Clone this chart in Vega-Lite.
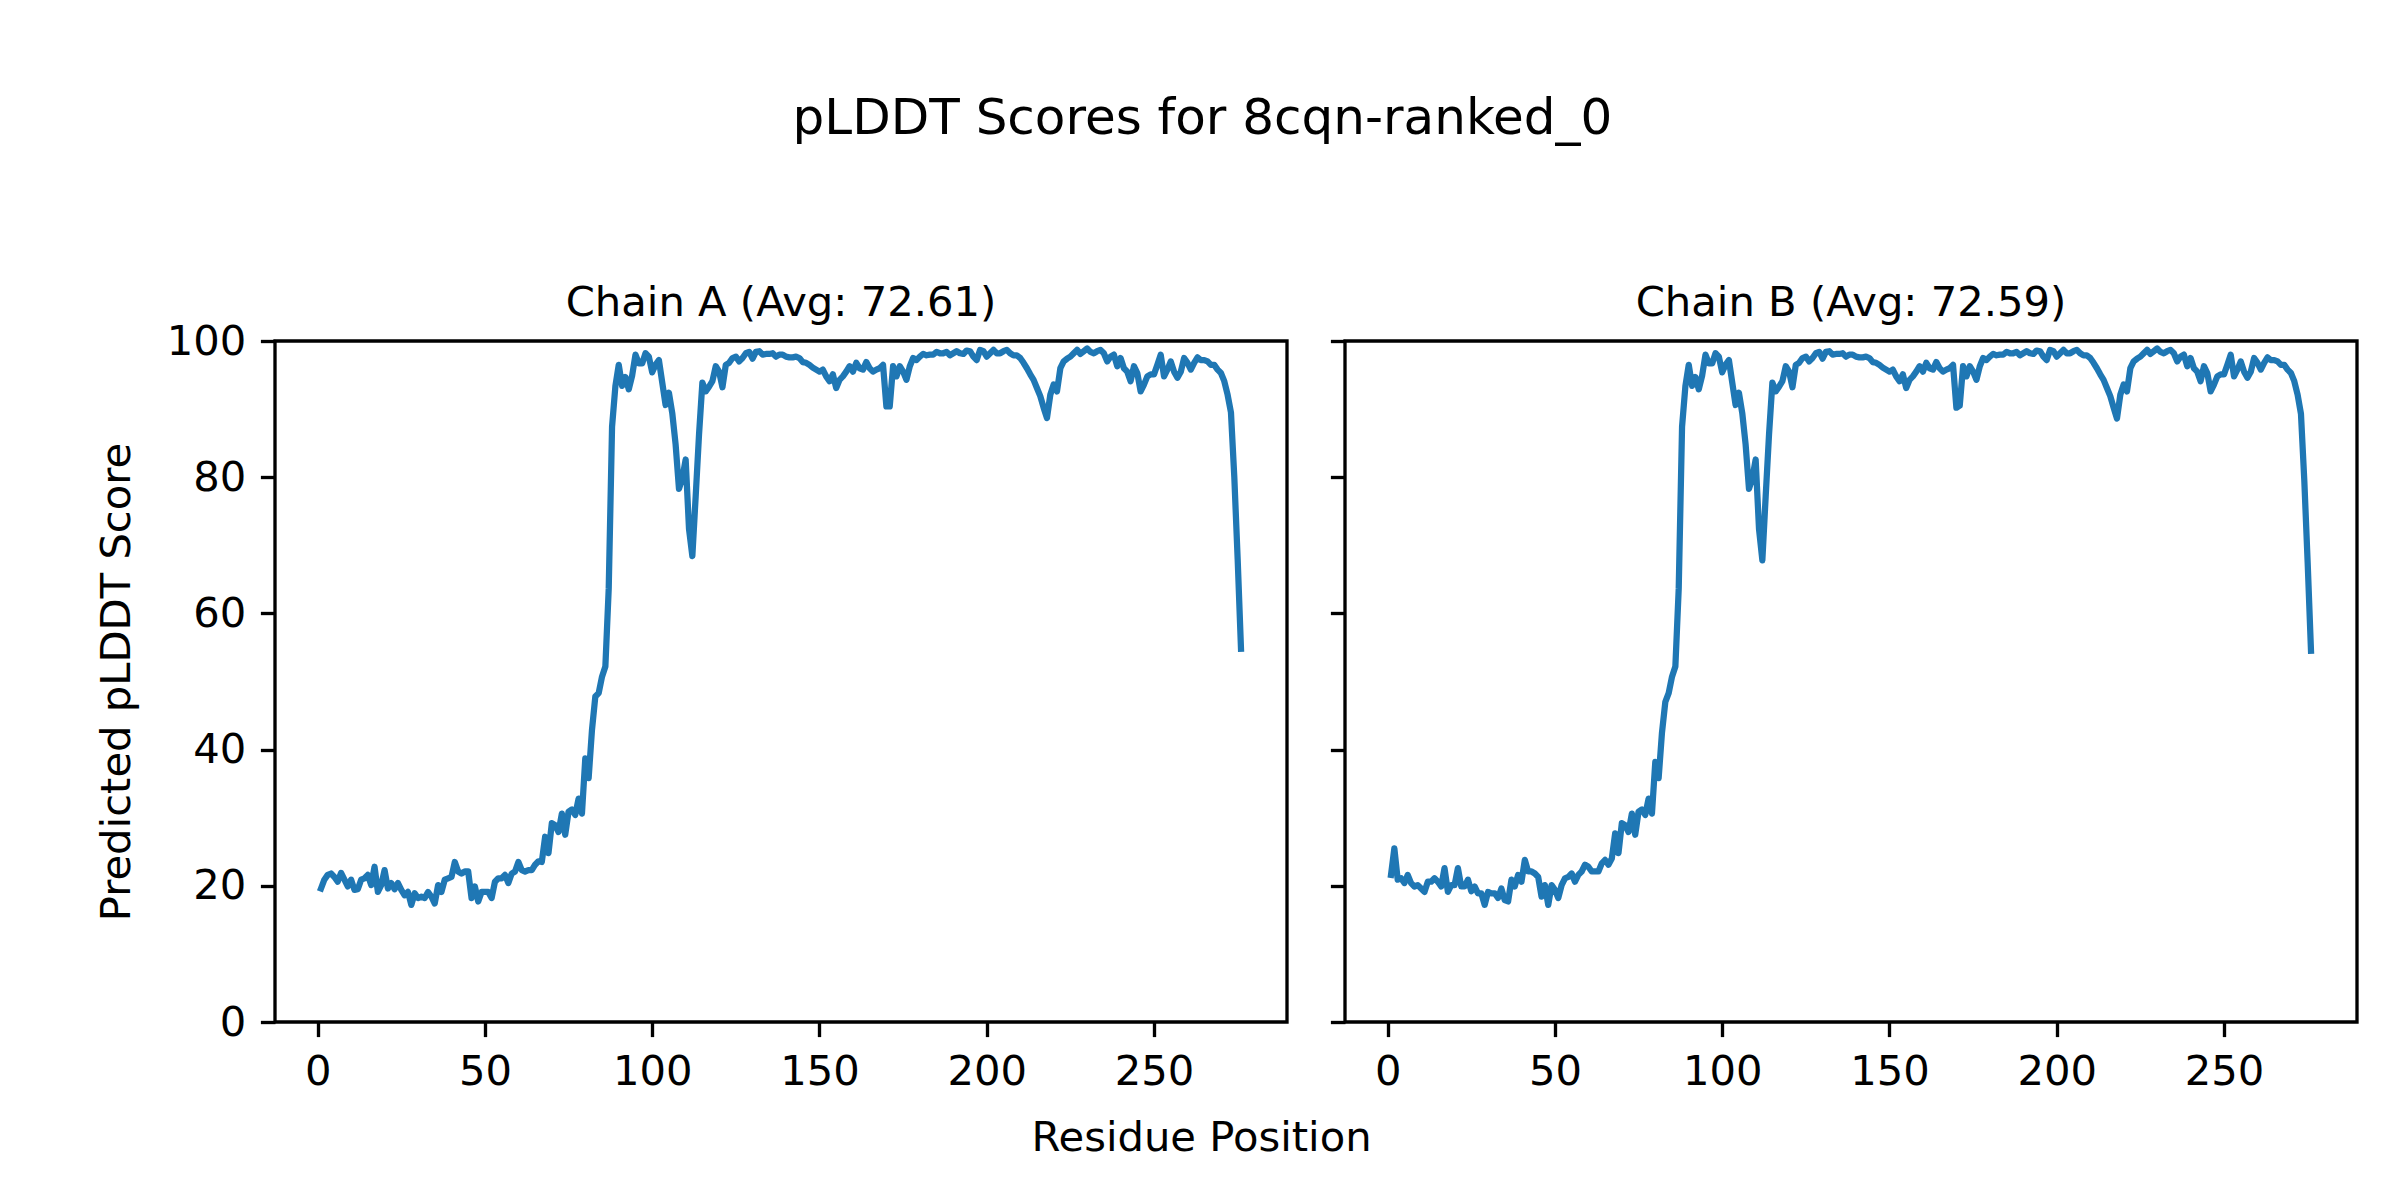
{
  "$schema": "https://vega.github.io/schema/vega-lite/v6.json",
  "background": "white",
  "autosize": {"type": "pad"},
  "padding": {"left": 94, "top": 94, "right": 0, "bottom": 0},
  "title": {"text": "pLDDT Scores for 8cqn-ranked_0", "fontSize": 50, "fontWeight": "normal", "font": "DejaVu Sans", "color": "black", "anchor": "middle", "frame": "bounds", "baseline": "alphabetic", "offset": 97, "dx": -24},
  "config": {
    "font": "DejaVu Sans",
    "view": {"stroke": "black", "strokeWidth": 3.33},
    "axis": {"domain": false, "grid": false, "ticks": true, "tickColor": "black", "tickWidth": 3.33, "tickSize": 14.6, "labelFont": "DejaVu Sans", "labelFontSize": 41.7, "labelColor": "black", "labelPadding": 14.6, "labelFlush": false, "labelOverlap": false, "labelBound": false, "titleFont": "DejaVu Sans", "titleFontSize": 41.7, "titleFontWeight": "normal", "titleColor": "black"}
  },
  "datasets": {
    "A": [
      {"r":1,"v":19.6},{"r":2,"v":20.9},{"r":3,"v":21.6},{"r":4,"v":21.8},{"r":5,"v":21.3},{"r":6,"v":20.6},{"r":7,"v":21.9},{"r":8,"v":20.9},{"r":9,"v":19.9},{"r":10,"v":20.9},
      {"r":11,"v":19.4},{"r":12,"v":19.5},{"r":13,"v":20.9},{"r":14,"v":21.1},{"r":15,"v":21.6},{"r":16,"v":20.1},{"r":17,"v":22.8},{"r":18,"v":19.1},{"r":19,"v":20.1},{"r":20,"v":22.3},
      {"r":21,"v":19.6},{"r":22,"v":20.4},{"r":23,"v":19.5},{"r":24,"v":20.4},{"r":25,"v":19.4},{"r":26,"v":18.6},{"r":27,"v":19.1},{"r":28,"v":17.2},{"r":29,"v":18.9},{"r":30,"v":18.2},
      {"r":31,"v":18.4},{"r":32,"v":18.2},{"r":33,"v":19.1},{"r":34,"v":18.4},{"r":35,"v":17.4},{"r":36,"v":20.1},{"r":37,"v":19.1},{"r":38,"v":20.9},{"r":39,"v":21.1},{"r":40,"v":21.3},
      {"r":41,"v":23.5},{"r":42,"v":22.1},{"r":43,"v":21.8},{"r":44,"v":22.1},{"r":45,"v":22.1},{"r":46,"v":18.2},{"r":47,"v":19.9},{"r":48,"v":17.7},{"r":49,"v":19.1},{"r":50,"v":19.1},
      {"r":51,"v":19.1},{"r":52,"v":18.2},{"r":53,"v":20.6},{"r":54,"v":21.1},{"r":55,"v":21.1},{"r":56,"v":21.6},{"r":57,"v":20.4},{"r":58,"v":21.8},{"r":59,"v":22.1},{"r":60,"v":23.5},
      {"r":61,"v":22.3},{"r":62,"v":22.1},{"r":63,"v":22.3},{"r":64,"v":22.3},{"r":65,"v":23.1},{"r":66,"v":23.6},{"r":67,"v":23.5},{"r":68,"v":27.2},{"r":69,"v":24.8},{"r":70,"v":29.2},
      {"r":71,"v":28.9},{"r":72,"v":27.9},{"r":73,"v":30.6},{"r":74,"v":27.5},{"r":75,"v":30.9},{"r":76,"v":31.2},{"r":77,"v":30.4},{"r":78,"v":32.8},{"r":79,"v":30.6},{"r":80,"v":38.7},
      {"r":81,"v":35.8},{"r":82,"v":42.9},{"r":83,"v":47.8},{"r":84,"v":48.3},{"r":85,"v":50.7},{"r":86,"v":52.2},{"r":87,"v":63.6},{"r":88,"v":87.4},{"r":89,"v":93.4},{"r":90,"v":96.5},
      {"r":91,"v":93.4},{"r":92,"v":94.7},{"r":93,"v":92.9},{"r":94,"v":94.9},{"r":95,"v":98.0},{"r":96,"v":96.7},{"r":97,"v":96.7},{"r":98,"v":98.2},{"r":99,"v":97.7},{"r":100,"v":95.4},
      {"r":101,"v":96.5},{"r":102,"v":97.2},{"r":103,"v":93.9},{"r":104,"v":90.6},{"r":105,"v":92.4},{"r":106,"v":89.4},{"r":107,"v":84.8},{"r":108,"v":78.3},{"r":109,"v":79.8},{"r":110,"v":82.6},
      {"r":111,"v":72.4},{"r":112,"v":68.4},{"r":113,"v":77.2},{"r":114,"v":86.3},{"r":115,"v":93.9},{"r":116,"v":92.6},{"r":117,"v":93.3},{"r":118,"v":94.1},{"r":119,"v":96.3},{"r":120,"v":95.5},
      {"r":121,"v":93.2},{"r":122,"v":96.5},{"r":123,"v":96.8},{"r":124,"v":97.5},{"r":125,"v":97.7},{"r":126,"v":97.0},{"r":127,"v":97.5},{"r":128,"v":98.2},{"r":129,"v":98.4},{"r":130,"v":97.4},
      {"r":131,"v":98.4},{"r":132,"v":98.5},{"r":133,"v":98.0},{"r":134,"v":98.1},{"r":135,"v":98.1},{"r":136,"v":98.2},{"r":137,"v":97.7},{"r":138,"v":98.0},{"r":139,"v":98.0},{"r":140,"v":97.7},
      {"r":141,"v":97.6},{"r":142,"v":97.6},{"r":143,"v":97.7},{"r":144,"v":97.5},{"r":145,"v":96.9},{"r":146,"v":96.8},{"r":147,"v":96.5},{"r":148,"v":96.1},{"r":149,"v":95.8},{"r":150,"v":95.5},
      {"r":151,"v":95.8},{"r":152,"v":94.8},{"r":153,"v":94.1},{"r":154,"v":95.1},{"r":155,"v":93.1},{"r":156,"v":94.3},{"r":157,"v":94.8},{"r":158,"v":95.5},{"r":159,"v":96.3},{"r":160,"v":95.5},
      {"r":161,"v":96.8},{"r":162,"v":96.0},{"r":163,"v":95.8},{"r":164,"v":96.9},{"r":165,"v":96.0},{"r":166,"v":95.5},{"r":167,"v":95.8},{"r":168,"v":96.0},{"r":169,"v":96.5},{"r":170,"v":90.4},
      {"r":171,"v":90.4},{"r":172,"v":96.3},{"r":173,"v":94.8},{"r":174,"v":96.3},{"r":175,"v":95.5},{"r":176,"v":94.3},{"r":177,"v":96.3},{"r":178,"v":97.5},{"r":179,"v":97.2},{"r":180,"v":97.7},
      {"r":181,"v":98.1},{"r":182,"v":97.9},{"r":183,"v":98.0},{"r":184,"v":98.0},{"r":185,"v":98.4},{"r":186,"v":98.2},{"r":187,"v":98.2},{"r":188,"v":98.4},{"r":189,"v":97.9},{"r":190,"v":98.2},
      {"r":191,"v":98.5},{"r":192,"v":98.2},{"r":193,"v":98.1},{"r":194,"v":98.6},{"r":195,"v":98.5},{"r":196,"v":97.7},{"r":197,"v":97.2},{"r":198,"v":98.7},{"r":199,"v":98.5},{"r":200,"v":97.7},
      {"r":201,"v":98.2},{"r":202,"v":98.7},{"r":203,"v":98.2},{"r":204,"v":98.2},{"r":205,"v":98.5},{"r":206,"v":98.7},{"r":207,"v":98.2},{"r":208,"v":97.9},{"r":209,"v":97.9},{"r":210,"v":97.5},
      {"r":211,"v":96.8},{"r":212,"v":96.0},{"r":213,"v":95.1},{"r":214,"v":94.3},{"r":215,"v":93.1},{"r":216,"v":91.9},{"r":217,"v":90.2},{"r":218,"v":88.7},{"r":219,"v":92.1},{"r":220,"v":93.6},
      {"r":221,"v":92.6},{"r":222,"v":96.0},{"r":223,"v":97.0},{"r":224,"v":97.4},{"r":225,"v":97.7},{"r":226,"v":98.2},{"r":227,"v":98.7},{"r":228,"v":98.1},{"r":229,"v":98.5},{"r":230,"v":98.9},
      {"r":231,"v":98.4},{"r":232,"v":98.2},{"r":233,"v":98.5},{"r":234,"v":98.7},{"r":235,"v":98.2},{"r":236,"v":97.0},{"r":237,"v":97.7},{"r":238,"v":98.0},{"r":239,"v":96.3},{"r":240,"v":97.5},
      {"r":241,"v":96.0},{"r":242,"v":95.5},{"r":243,"v":94.1},{"r":244,"v":96.3},{"r":245,"v":95.3},{"r":246,"v":92.6},{"r":247,"v":93.6},{"r":248,"v":94.8},{"r":249,"v":95.1},{"r":250,"v":95.1},
      {"r":251,"v":96.5},{"r":252,"v":98.0},{"r":253,"v":94.8},{"r":254,"v":95.8},{"r":255,"v":97.0},{"r":256,"v":95.5},{"r":257,"v":94.6},{"r":258,"v":95.5},{"r":259,"v":97.5},{"r":260,"v":96.8},
      {"r":261,"v":95.8},{"r":262,"v":96.8},{"r":263,"v":97.6},{"r":264,"v":97.2},{"r":265,"v":97.2},{"r":266,"v":97.0},{"r":267,"v":96.5},{"r":268,"v":96.5},{"r":269,"v":95.8},{"r":270,"v":95.3},
      {"r":271,"v":94.1},{"r":272,"v":92.1},{"r":273,"v":89.5},{"r":274,"v":80.0},{"r":275,"v":68.0},{"r":276,"v":54.8}
    ],
    "B": [
      {"r":1,"v":21.6},{"r":2,"v":25.5},{"r":3,"v":20.9},{"r":4,"v":21.1},{"r":5,"v":20.4},{"r":6,"v":21.6},{"r":7,"v":20.4},{"r":8,"v":19.9},{"r":9,"v":20.1},{"r":10,"v":19.6},
      {"r":11,"v":19.1},{"r":12,"v":20.6},{"r":13,"v":20.6},{"r":14,"v":21.1},{"r":15,"v":20.6},{"r":16,"v":19.9},{"r":17,"v":22.6},{"r":18,"v":19.1},{"r":19,"v":20.1},{"r":20,"v":20.1},
      {"r":21,"v":22.6},{"r":22,"v":19.9},{"r":23,"v":19.9},{"r":24,"v":20.9},{"r":25,"v":19.2},{"r":26,"v":19.9},{"r":27,"v":18.9},{"r":28,"v":18.9},{"r":29,"v":17.2},{"r":30,"v":19.1},
      {"r":31,"v":18.9},{"r":32,"v":18.9},{"r":33,"v":18.2},{"r":34,"v":19.6},{"r":35,"v":17.9},{"r":36,"v":17.7},{"r":37,"v":20.9},{"r":38,"v":19.9},{"r":39,"v":21.6},{"r":40,"v":20.6},
      {"r":41,"v":23.8},{"r":42,"v":22.1},{"r":43,"v":22.1},{"r":44,"v":21.8},{"r":45,"v":21.3},{"r":46,"v":18.4},{"r":47,"v":20.1},{"r":48,"v":17.2},{"r":49,"v":20.1},{"r":50,"v":19.4},
      {"r":51,"v":18.2},{"r":52,"v":20.1},{"r":53,"v":21.1},{"r":54,"v":21.3},{"r":55,"v":21.8},{"r":56,"v":20.6},{"r":57,"v":21.6},{"r":58,"v":22.1},{"r":59,"v":23.1},{"r":60,"v":22.8},
      {"r":61,"v":22.1},{"r":62,"v":22.1},{"r":63,"v":22.1},{"r":64,"v":23.3},{"r":65,"v":23.8},{"r":66,"v":23.1},{"r":67,"v":24.0},{"r":68,"v":27.7},{"r":69,"v":24.8},{"r":70,"v":29.2},
      {"r":71,"v":28.9},{"r":72,"v":27.9},{"r":73,"v":30.6},{"r":74,"v":27.5},{"r":75,"v":30.9},{"r":76,"v":31.2},{"r":77,"v":30.4},{"r":78,"v":32.8},{"r":79,"v":30.6},{"r":80,"v":38.2},
      {"r":81,"v":35.8},{"r":82,"v":42.5},{"r":83,"v":47.0},{"r":84,"v":48.3},{"r":85,"v":50.7},{"r":86,"v":52.2},{"r":87,"v":63.6},{"r":88,"v":87.4},{"r":89,"v":93.4},{"r":90,"v":96.5},
      {"r":91,"v":93.4},{"r":92,"v":94.7},{"r":93,"v":92.9},{"r":94,"v":94.9},{"r":95,"v":98.0},{"r":96,"v":96.7},{"r":97,"v":96.7},{"r":98,"v":98.2},{"r":99,"v":97.7},{"r":100,"v":95.4},
      {"r":101,"v":96.5},{"r":102,"v":97.2},{"r":103,"v":93.9},{"r":104,"v":90.6},{"r":105,"v":92.4},{"r":106,"v":89.4},{"r":107,"v":84.8},{"r":108,"v":78.3},{"r":109,"v":79.8},{"r":110,"v":82.6},
      {"r":111,"v":72.4},{"r":112,"v":67.8},{"r":113,"v":77.2},{"r":114,"v":86.3},{"r":115,"v":93.9},{"r":116,"v":92.6},{"r":117,"v":93.3},{"r":118,"v":94.1},{"r":119,"v":96.3},{"r":120,"v":95.5},
      {"r":121,"v":93.2},{"r":122,"v":96.5},{"r":123,"v":96.8},{"r":124,"v":97.5},{"r":125,"v":97.7},{"r":126,"v":97.0},{"r":127,"v":97.5},{"r":128,"v":98.2},{"r":129,"v":98.4},{"r":130,"v":97.4},
      {"r":131,"v":98.4},{"r":132,"v":98.5},{"r":133,"v":98.0},{"r":134,"v":98.1},{"r":135,"v":98.1},{"r":136,"v":98.2},{"r":137,"v":97.7},{"r":138,"v":98.0},{"r":139,"v":98.0},{"r":140,"v":97.7},
      {"r":141,"v":97.6},{"r":142,"v":97.6},{"r":143,"v":97.7},{"r":144,"v":97.5},{"r":145,"v":96.9},{"r":146,"v":96.8},{"r":147,"v":96.5},{"r":148,"v":96.1},{"r":149,"v":95.8},{"r":150,"v":95.5},
      {"r":151,"v":95.8},{"r":152,"v":94.8},{"r":153,"v":94.1},{"r":154,"v":95.1},{"r":155,"v":93.1},{"r":156,"v":94.3},{"r":157,"v":94.8},{"r":158,"v":95.5},{"r":159,"v":96.3},{"r":160,"v":95.5},
      {"r":161,"v":96.8},{"r":162,"v":96.0},{"r":163,"v":95.8},{"r":164,"v":96.9},{"r":165,"v":96.0},{"r":166,"v":95.5},{"r":167,"v":95.8},{"r":168,"v":96.0},{"r":169,"v":96.5},{"r":170,"v":90.2},
      {"r":171,"v":90.5},{"r":172,"v":96.3},{"r":173,"v":94.8},{"r":174,"v":96.3},{"r":175,"v":95.5},{"r":176,"v":94.3},{"r":177,"v":96.3},{"r":178,"v":97.5},{"r":179,"v":97.2},{"r":180,"v":97.7},
      {"r":181,"v":98.1},{"r":182,"v":97.9},{"r":183,"v":98.0},{"r":184,"v":98.0},{"r":185,"v":98.4},{"r":186,"v":98.2},{"r":187,"v":98.2},{"r":188,"v":98.4},{"r":189,"v":97.9},{"r":190,"v":98.2},
      {"r":191,"v":98.5},{"r":192,"v":98.2},{"r":193,"v":98.1},{"r":194,"v":98.6},{"r":195,"v":98.5},{"r":196,"v":97.7},{"r":197,"v":97.2},{"r":198,"v":98.7},{"r":199,"v":98.5},{"r":200,"v":97.7},
      {"r":201,"v":98.2},{"r":202,"v":98.7},{"r":203,"v":98.2},{"r":204,"v":98.2},{"r":205,"v":98.5},{"r":206,"v":98.7},{"r":207,"v":98.2},{"r":208,"v":97.9},{"r":209,"v":97.9},{"r":210,"v":97.5},
      {"r":211,"v":96.8},{"r":212,"v":96.0},{"r":213,"v":95.1},{"r":214,"v":94.3},{"r":215,"v":93.1},{"r":216,"v":91.9},{"r":217,"v":90.2},{"r":218,"v":88.6},{"r":219,"v":92.1},{"r":220,"v":93.6},
      {"r":221,"v":92.6},{"r":222,"v":96.0},{"r":223,"v":97.0},{"r":224,"v":97.4},{"r":225,"v":97.7},{"r":226,"v":98.2},{"r":227,"v":98.7},{"r":228,"v":98.1},{"r":229,"v":98.5},{"r":230,"v":98.9},
      {"r":231,"v":98.4},{"r":232,"v":98.2},{"r":233,"v":98.5},{"r":234,"v":98.7},{"r":235,"v":98.2},{"r":236,"v":97.0},{"r":237,"v":97.7},{"r":238,"v":98.0},{"r":239,"v":96.3},{"r":240,"v":97.5},
      {"r":241,"v":96.0},{"r":242,"v":95.5},{"r":243,"v":94.1},{"r":244,"v":96.3},{"r":245,"v":95.3},{"r":246,"v":92.6},{"r":247,"v":93.6},{"r":248,"v":94.8},{"r":249,"v":95.1},{"r":250,"v":95.1},
      {"r":251,"v":96.5},{"r":252,"v":98.0},{"r":253,"v":94.8},{"r":254,"v":95.8},{"r":255,"v":97.0},{"r":256,"v":95.5},{"r":257,"v":94.6},{"r":258,"v":95.5},{"r":259,"v":97.5},{"r":260,"v":96.8},
      {"r":261,"v":95.8},{"r":262,"v":96.8},{"r":263,"v":97.6},{"r":264,"v":97.2},{"r":265,"v":97.2},{"r":266,"v":97.0},{"r":267,"v":96.5},{"r":268,"v":96.5},{"r":269,"v":95.8},{"r":270,"v":95.3},
      {"r":271,"v":94.1},{"r":272,"v":92.1},{"r":273,"v":89.3},{"r":274,"v":79.5},{"r":275,"v":67.5},{"r":276,"v":54.5}
    ]
  },
  "bounds": "flush",
  "spacing": 58,
  "hconcat": [
    {
      "width": 1012,
      "height": 681,
      "title": {"text": "Chain A (Avg: 72.61)", "fontSize": 41.7, "fontWeight": "normal", "font": "DejaVu Sans", "color": "black", "anchor": "middle", "frame": "group", "baseline": "alphabetic", "offset": -36.9},
      "data": {"name": "A"},
      "mark": {"type": "line", "color": "#1f77b4", "strokeWidth": 6.25, "strokeJoin": "round", "strokeCap": "square"},
      "encoding": {
        "x": {"field": "r", "type": "quantitative", "scale": {"domain": [-12.75, 289.75], "nice": false, "zero": false},
              "axis": {"values": [0, 50, 100, 150, 200, 250], "title": "Residue Position", "titleX": 926, "titleY": 115, "titleAlign": "center", "titleBaseline": "middle", "titleAnchor": null}},
        "y": {"field": "v", "type": "quantitative", "scale": {"domain": [0, 100], "nice": false, "zero": false},
              "axis": {"values": [0, 20, 40, 60, 80, 100], "title": "Predicted pLDDT Score", "titleX": -159, "titleY": 340.5, "titleAngle": -90, "titleAlign": "center", "titleBaseline": "middle"}}
      }
    },
    {
      "width": 1012,
      "height": 681,
      "title": {"text": "Chain B (Avg: 72.59)", "fontSize": 41.7, "fontWeight": "normal", "font": "DejaVu Sans", "color": "black", "anchor": "middle", "frame": "group", "baseline": "alphabetic", "offset": -18.5},
      "data": {"name": "B"},
      "mark": {"type": "line", "color": "#1f77b4", "strokeWidth": 6.25, "strokeJoin": "round", "strokeCap": "square"},
      "encoding": {
        "x": {"field": "r", "type": "quantitative", "scale": {"domain": [-12.75, 289.75], "nice": false, "zero": false},
              "axis": {"values": [0, 50, 100, 150, 200, 250], "title": null}},
        "y": {"field": "v", "type": "quantitative", "scale": {"domain": [0, 100], "nice": false, "zero": false},
              "axis": {"values": [0, 20, 40, 60, 80, 100], "title": null, "labels": false}}
      }
    }
  ]
}
